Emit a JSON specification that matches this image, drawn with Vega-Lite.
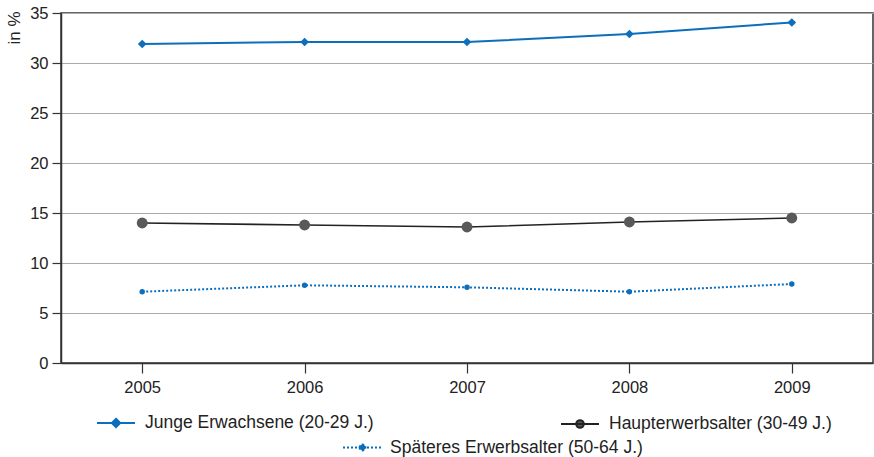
{
  "$schema": "https://vega.github.io/schema/vega-lite/v6.json",
  "autosize": {"type": "none"},
  "padding": {"left": 61, "top": 13, "right": 1, "bottom": 94},
  "width": 812,
  "height": 350,
  "background": "white",
  "config": {
    "font": "Liberation Sans",
    "view": {"stroke": "#333333", "strokeWidth": 1.5},
    "axis": {"labelFont": "Liberation Sans", "titleFont": "Liberation Sans", "labelFontSize": 16.5, "labelColor": "#222222", "titleColor": "#222222", "domainColor": "#333333", "domainWidth": 1.5, "tickColor": "#333333", "tickWidth": 1.2},
    "legend": {"labelLimit": 0}
  },
  "data": {
    "values": [
      {"year": "2005", "series": "Junge Erwachsene (20-29 J.)", "value": 31.9},
      {"year": "2006", "series": "Junge Erwachsene (20-29 J.)", "value": 32.1},
      {"year": "2007", "series": "Junge Erwachsene (20-29 J.)", "value": 32.1},
      {"year": "2008", "series": "Junge Erwachsene (20-29 J.)", "value": 32.9},
      {"year": "2009", "series": "Junge Erwachsene (20-29 J.)", "value": 34.05},
      {"year": "2005", "series": "Haupterwerbsalter (30-49 J.)", "value": 14.0},
      {"year": "2006", "series": "Haupterwerbsalter (30-49 J.)", "value": 13.8},
      {"year": "2007", "series": "Haupterwerbsalter (30-49 J.)", "value": 13.6},
      {"year": "2008", "series": "Haupterwerbsalter (30-49 J.)", "value": 14.1},
      {"year": "2009", "series": "Haupterwerbsalter (30-49 J.)", "value": 14.5},
      {"year": "2005", "series": "Späteres Erwerbsalter (50-64 J.)", "value": 7.13},
      {"year": "2006", "series": "Späteres Erwerbsalter (50-64 J.)", "value": 7.77},
      {"year": "2007", "series": "Späteres Erwerbsalter (50-64 J.)", "value": 7.57},
      {"year": "2008", "series": "Späteres Erwerbsalter (50-64 J.)", "value": 7.13},
      {"year": "2009", "series": "Späteres Erwerbsalter (50-64 J.)", "value": 7.9}
    ]
  },
  "encoding": {
    "x": {"field": "year", "type": "ordinal", "scale": {"type": "point", "padding": 0.5},
      "axis": {"title": null, "labelAngle": 0, "tickSize": 10, "labelPadding": 6, "grid": false}},
    "y": {"field": "value", "type": "quantitative", "scale": {"domain": [0, 35], "nice": false},
      "axis": {"title": "in %", "values": [0, 5, 10, 15, 20, 25, 30, 35], "tickSize": 9, "labelPadding": 4,
        "titleFontSize": 17, "titleFontWeight": "normal", "titleAngle": -90, "titleX": -47, "titleY": -2,
        "titleAlign": "right", "titleBaseline": "middle",
        "grid": true, "gridColor": "#aaaaaa", "gridWidth": 1.2}}
  },
  "layer": [
    {
      "transform": [{"filter": "datum.series === 'Junge Erwachsene (20-29 J.)'"}],
      "mark": {"type": "line", "strokeWidth": 2},
      "encoding": {
        "color": {"field": "series", "type": "nominal", "scale": {"range": ["#0d6fbc"]},
          "legend": {"title": null, "orient": "none", "legendX": 35, "legendY": 390, "padding": 0,
            "symbolType": "M-1,0L1,0M0,-0.22L0.22,0L0,0.22L-0.22,0Z", "symbolSize": 1444,
            "symbolStrokeWidth": 2, "labelFontSize": 17.5, "labelColor": "#222222", "labelOffset": 9,
            "labelFont": "Liberation Sans", "labelLimit": 0,
            "encode": {"symbols": {"update": {"fill": {"value": "#0d6fbc"}, "stroke": {"value": "#0d6fbc"}, "opacity": {"value": 1}}}}}}
      }
    },
    {
      "transform": [{"filter": "datum.series === 'Junge Erwachsene (20-29 J.)'"}],
      "mark": {"type": "point", "shape": "diamond", "filled": true, "size": 75, "color": "#0d6fbc", "opacity": 1}
    },
    {
      "transform": [{"filter": "datum.series === 'Haupterwerbsalter (30-49 J.)'"}],
      "mark": {"type": "line", "strokeWidth": 1.6},
      "encoding": {
        "color": {"field": "series", "type": "nominal", "scale": {"range": ["#222222"]},
          "legend": {"title": null, "orient": "none", "legendX": 499, "legendY": 391, "padding": 0,
            "symbolType": "M-1,0L1,0M-0.2,0A0.2,0.2 0 1,0 0.2,0A0.2,0.2 0 1,0 -0.2,0Z", "symbolSize": 1444,
            "symbolStrokeWidth": 2, "labelFontSize": 17.5, "labelColor": "#222222", "labelOffset": 9,
            "labelFont": "Liberation Sans", "labelLimit": 0,
            "encode": {"symbols": {"update": {"fill": {"value": "#595959"}, "stroke": {"value": "#595959"}, "opacity": {"value": 1}}}}}}
      }
    },
    {
      "transform": [{"filter": "datum.series === 'Haupterwerbsalter (30-49 J.)'"}],
      "mark": {"type": "point", "shape": "circle", "filled": true, "size": 120, "color": "#595959", "opacity": 1}
    },
    {
      "transform": [{"filter": "datum.series === 'Späteres Erwerbsalter (50-64 J.)'"}],
      "mark": {"type": "line", "strokeWidth": 2, "strokeDash": [2, 2]},
      "encoding": {
        "color": {"field": "series", "type": "nominal", "scale": {"range": ["#0d6fbc"]},
          "legend": {"title": null, "orient": "none", "legendX": 281, "legendY": 414, "padding": 0,
            "symbolType": "M-1,0L1,0M-0.15,0A0.15,0.15 0 1,0 0.15,0A0.15,0.15 0 1,0 -0.15,0Z", "symbolSize": 1521,
            "symbolStrokeWidth": 2, "labelFontSize": 17.5, "labelColor": "#222222", "labelOffset": 7,
            "labelFont": "Liberation Sans", "labelLimit": 0,
            "encode": {"symbols": {"update": {"fill": {"value": "#0d6fbc"}, "stroke": {"value": "#0d6fbc"}, "strokeDash": {"value": [2, 2]}, "opacity": {"value": 1}}}}}}
      }
    },
    {
      "transform": [{"filter": "datum.series === 'Späteres Erwerbsalter (50-64 J.)'"}],
      "mark": {"type": "point", "shape": "circle", "filled": true, "size": 30, "color": "#0d6fbc", "opacity": 1}
    }
  ],
  "resolve": {"scale": {"color": "independent"}}
}
